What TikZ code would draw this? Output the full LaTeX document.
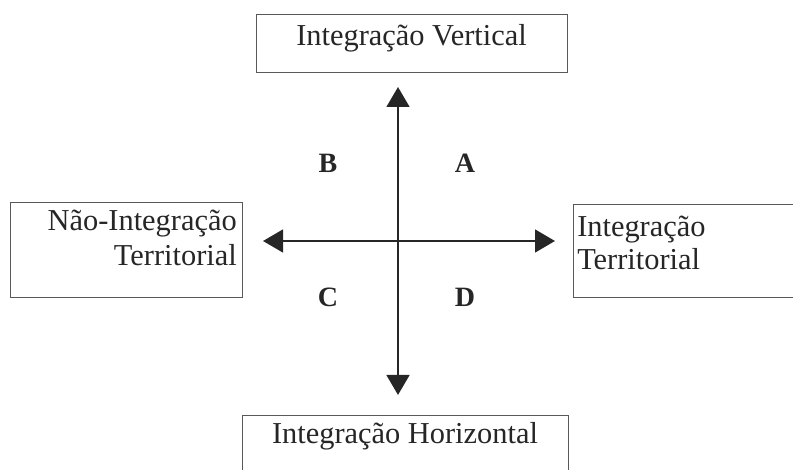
\documentclass[tikz,border=0pt]{standalone}
\usepackage{fontspec}
\setmainfont{Liberation Serif}
\usetikzlibrary{arrows.meta,fit}
\tikzstyle{caixa}=[rectangle,draw=black!65,line width=0.7pt,inner sep=0pt]
\tikzstyle{texto}=[inner sep=0pt,text=black!85,font=\fontsize{22.8}{26.25}\selectfont]
\tikzstyle{quad}=[inner sep=0pt,anchor=base,text=black!85,font=\fontsize{21}{24}\selectfont\bfseries]
\tikzstyle{eixo}=[{Triangle[length=15pt,width=17pt]}-{Triangle[length=15pt,width=17pt]},line width=2pt,black!85]

\begin{document}
\begin{tikzpicture}[x=0.75pt,y=-0.75pt]
\clip (0,0) rectangle (793,470);
% caixas
\node[caixa,fit={(256,14) (567,72)}] (vert) {};
\node[caixa,fit={(10,202) (242,297)}] (naoter) {};
\node[caixa,fit={(573,204) (810,297)}] (ter) {};
\node[caixa,fit={(242,415) (568,490)}] (hor) {};
\node[texto,anchor=base] (tvert) at (411.5,46) {Integração Vertical};
\node[texto,anchor=north east,align=right] (tnaoter) at (237,210) {Não-Integração\\Territorial};
\node[texto,anchor=north west,align=left,font=\fontsize{22.8}{24.75}\selectfont] (tter) at (577,216) {Integração\\Territorial};
\node[texto,anchor=base] (thor) at (405,443) {Integração Horizontal};
% eixos
\coordinate (cima) at (398,87);
\coordinate (baixo) at (398,395);
\coordinate (esq) at (263,241);
\coordinate (dir) at (555,241);
\draw[eixo] (baixo) -- (cima);
\draw[eixo] (esq) -- (dir);
% quadrantes
\node[quad] (A) at (465,173) {A};
\node[quad] (B) at (328,173) {B};
\node[quad] (C) at (328,307) {C};
\node[quad] (D) at (465,307) {D};
\end{tikzpicture}
\end{document}
